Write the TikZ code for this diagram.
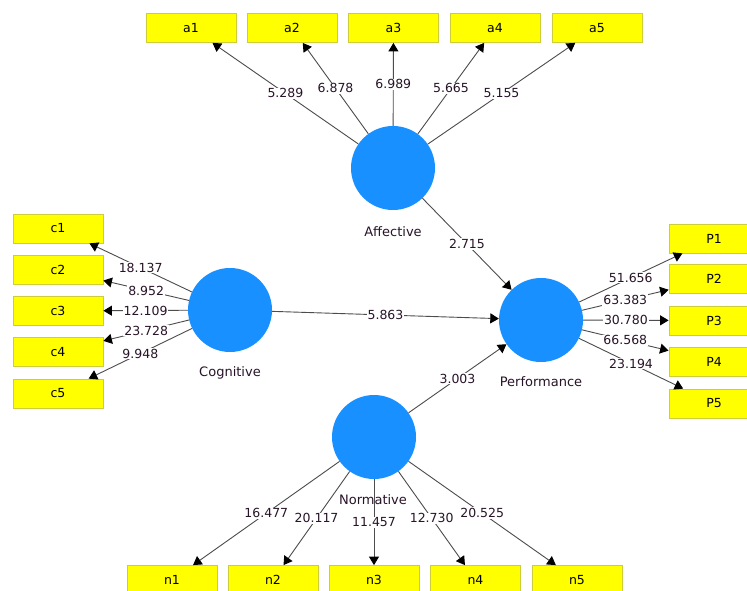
\documentclass[tikz,border=0pt]{standalone}
\usepackage{fontspec}
\setmainfont{DejaVu Sans}
\usetikzlibrary{arrows.meta}
\definecolor{lvblue}{RGB}{24,144,255}
\definecolor{boxyel}{RGB}{255,255,0}
\definecolor{boxedge}{RGB}{205,205,60}
\definecolor{lbltext}{RGB}{40,20,40}
\begin{document}
\begin{tikzpicture}[x=1pt,y=-1pt,
  lv/.style={circle, fill=lvblue, minimum size=84pt, inner sep=0pt},
  ind/.style={rectangle, fill=boxyel, draw=boxedge, line width=0.8pt,
    minimum width=90pt, minimum height=29pt, inner sep=0pt,
    font=\fontsize{12.5}{14}\selectfont},
  conn/.style={draw=black!70, line width=0.9pt,
    -{Triangle[length=8.5pt,width=10pt,color=black]}},
  val/.style={fill=white, inner sep=1pt, font=\fontsize{12.5}{14}\selectfont, text=lbltext},
  lvlab/.style={inner sep=1pt, font=\fontsize{13}{15}\selectfont, text=lbltext}
]
\useasboundingbox (0,0) rectangle (747,591);
\fill[white] (0,0) rectangle (747,591);

% latent variables
\node[lv] (aff) at (393,168) {};
\node[lv] (cog) at (230,310) {};
\node[lv] (perf) at (541,320) {};
\node[lv] (norm) at (374,437) {};

\node[lvlab] (afflab) at (393,232) {Affective};
\node[lvlab] (coglab) at (230,373) {Cognitive};
\node[lvlab] (perflab) at (541,382) {Performance};

% indicators: affective
\node[ind] (a1) at (191,28) {a1};
\node[ind] (a2) at (292,28) {a2};
\node[ind] (a3) at (393.5,28) {a3};
\node[ind] (a4) at (495,28) {a4};
\node[ind] (a5) at (597,28) {a5};

% indicators: cognitive
\node[ind] (c1) at (58,228.5) {c1};
\node[ind] (c2) at (58,270) {c2};
\node[ind] (c3) at (58,311) {c3};
\node[ind] (c4) at (58,352) {c4};
\node[ind] (c5) at (58,393.5) {c5};

% indicators: performance
\node[ind] (p1) at (714,238.5) {P1};
\node[ind] (p2) at (714,279) {P2};
\node[ind] (p3) at (714,320.5) {P3};
\node[ind] (p4) at (714,361.5) {P4};
\node[ind] (p5) at (714,403.5) {P5};

% indicators: normative
\node[ind] (n1) at (172,580) {n1};
\node[ind] (n2) at (273,580) {n2};
\node[ind] (n3) at (374,580) {n3};
\node[ind] (n4) at (475.5,580) {n4};
\node[ind] (n5) at (577,580) {n5};

% affective loadings
\draw[conn] (aff) -- node[val] {5.289} (a1);
\draw[conn] (aff) -- node[val] {6.878} (a2);
\draw[conn] (aff) -- node[val] {6.989} (a3);
\draw[conn] (aff) -- node[val] {5.665} (a4);
\draw[conn] (aff) -- node[val] {5.155} (a5);

% cognitive loadings
\draw[conn] (cog) -- node[val] {18.137} (c1);
\draw[conn] (cog) -- node[val] {8.952} (c2);
\draw[conn] (cog) -- node[val] {12.109} (c3);
\draw[conn] (cog) -- node[val] {23.728} (c4);
\draw[conn] (cog) -- node[val] {9.948} (c5);

% performance loadings
\draw[conn] (perf) -- node[val] {51.656} (p1);
\draw[conn] (perf) -- node[val] {63.383} (p2);
\draw[conn] (perf) -- node[val] {30.780} (p3);
\draw[conn] (perf) -- node[val] {66.568} (p4);
\draw[conn] (perf) -- node[val] {23.194} (p5);

% normative loadings
\draw[conn] (norm) -- node[val] {16.477} (n1);
\draw[conn] (norm) -- node[val] {20.117} (n2);
\draw[conn] (norm) -- node[val] {11.457} (n3);
\draw[conn] (norm) -- node[val] {12.730} (n4);
\draw[conn] (norm) -- node[val] {20.525} (n5);

% structural paths
\draw[conn] (aff) -- node[val] {2.715} (perf);
\draw[conn] (cog) -- node[val] {5.863} (perf);
\draw[conn] (norm) -- node[val] {3.003} (perf);

\node[lvlab] (normlab) at (373,500) {Normative};
\end{tikzpicture}
\end{document}
